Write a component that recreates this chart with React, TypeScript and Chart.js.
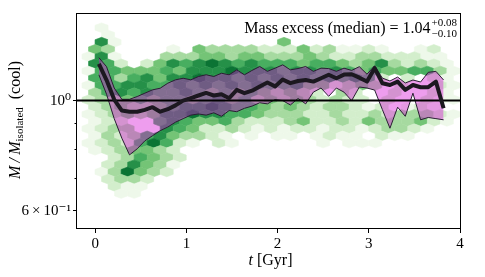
import { useEffect, useRef } from 'react';
import { Chart, registerables } from 'chart.js';

Chart.register(...registerables);

// ---------- data ----------
const TIME_GYR = [
  0.04, 0.124, 0.208, 0.292, 0.376, 0.46, 0.544, 0.628, 0.712, 0.796,
  0.88, 0.964, 1.048, 1.132, 1.216, 1.3, 1.384, 1.468, 1.552, 1.636,
  1.72, 1.804, 1.888, 1.972, 2.056, 2.14, 2.224, 2.308, 2.392, 2.476,
  2.56, 2.644, 2.728, 2.812, 2.896, 2.98, 3.064, 3.148, 3.232, 3.316,
  3.4, 3.484, 3.568, 3.652, 3.736, 3.82,
];
const MEDIAN = [
  1.185, 1.1, 1.005, 0.955, 0.95, 0.95, 0.958, 0.97, 0.95, 0.961,
  0.978, 1.0, 1.012, 1.024, 1.036, 1.024, 1.03, 1.011, 1.051, 1.035,
  1.047, 1.067, 1.087, 1.068, 1.102, 1.084, 1.095, 1.1, 1.092, 1.109,
  1.127, 1.109, 1.128, 1.13, 1.112, 1.092, 1.162, 1.084, 1.075, 1.092,
  1.051, 1.075, 1.064, 1.064, 1.092, 0.965,
];
const UPPER = [
  1.22, 1.17, 1.06, 1.006, 1.006, 1.019, 1.035, 1.051, 1.059, 1.084,
  1.101, 1.109, 1.101, 1.118, 1.127, 1.118, 1.135, 1.127, 1.153, 1.127,
  1.15, 1.171, 1.145, 1.162, 1.18, 1.153, 1.16, 1.171, 1.145, 1.162,
  1.16, 1.145, 1.162, 1.15, 1.17, 1.13, 1.175, 1.11, 1.095, 1.115,
  1.085, 1.1, 1.09, 1.14, 1.145, 1.1,
];
const LOWER = [
  1.127, 1.03, 0.92, 0.84, 0.778, 0.8, 0.83, 0.85, 0.87, 0.885,
  0.905, 0.92, 0.935, 0.94, 0.935, 0.945, 0.93, 0.955, 0.95, 0.965,
  0.975, 0.99, 0.985, 1.005, 1.0, 0.98, 1.01, 0.985, 1.04, 1.06,
  1.02, 1.06, 1.04, 1.0, 1.065, 1.06, 1.05, 0.96, 0.88, 0.97,
  0.93, 1.035, 0.915, 0.925, 0.92, 0.915,
];
const REFERENCE_LEVEL = 1;
const X_RANGE = [-0.2, 4];
const Y_RANGE = [0.552, 1.5];
const X_TICKS = [0, 1, 2, 3, 4];
const Y_MAJOR_TICKS = [0.6, 1];
const Y_MINOR_TICKS = [0.7, 0.8, 0.9];
const Y_TICK_LABELS: Record<string, string> = { '1': '10⁰', '0.6': '6\u2009×\u200910⁻¹' };
const ANNOTATION_MAIN = 'Mass excess (median) = 1.04';
const ANNOTATION_SUP = '+0.08';
const ANNOTATION_SUB = '\u22120.10';

// hexbin background: bin lattice (data units) and per-bin shade level (1..7, '.' = empty)
const HEX_DT = 0.1429;
const HEX_T0_EVEN = -0.0736;
const HEX_T0_ODD = -0.145;
const HEX_LOG_Y0 = 0.1465;
const HEX_LOG_DY = 0.01449;
const HEX_ROWS = [
  '.1',
  '..1',
  '.61.. ..... ..... 4',
  '.43.. ..1.4 33332 22423 1121. .12',
  '161.. .3334 43443 33432 23322 211',
  '.652. 24656 76565 55455 43463 2321',
  '15544 45466 67666 56656 54544 5531',
  '.5535 64667 66565 65656 5652. 2.21',
  '15566 55656 56565 56442 343.2 ..21',
  '.3565 65565 45454 3432. 32..2 ..21',
  '23345 45545 64534 34323 22.2. .211',
  '.2343 34566 76554 34323 3212. 121.',
  '12343 46676 65543 33223 22323 3321',
  '.122. .5654 45322 23422 32433 3421',
  '1233. .6542 23212 12212 21233 21',
  '.1323 56433 21.1. 11.12 11.21 1',
  '12325 7521. 21... ...1. 111',
  '.1234 432',
  '..235 432',
  '..236 431',
  '.1374 32',
  '..233 2',
  '..211',
  '...11',
];
const GREENS = ['', '#eef8ea', '#d3eecc', '#a6daa0', '#74c476', '#48ae60', '#259048', '#0b7434'];
const BAND_FILL = 'rgba(214, 22, 214, 0.42)';
const BAND_EDGE = '#2a1e33';
const MEDIAN_COLOR = '#1c1820';

const SERIF = '"Liberation Serif", "DejaVu Serif", serif';

type Run = { text: string; font: string; dy?: number };

function drawRuns(ctx: CanvasRenderingContext2D, runs: Run[], x: number, y: number, align: 'left' | 'center' | 'right') {
  let total = 0;
  const widths = runs.map((r) => {
    ctx.font = r.font;
    const w = ctx.measureText(r.text).width;
    total += w;
    return w;
  });
  let cx = align === 'left' ? x : align === 'center' ? x - total / 2 : x - total;
  ctx.textAlign = 'left';
  ctx.textBaseline = 'alphabetic';
  runs.forEach((r, i) => {
    ctx.font = r.font;
    ctx.fillText(r.text, cx, y + (r.dy || 0));
    cx += widths[i];
  });
}

const hexPlugin = {
  id: 'hexbin',
  beforeDatasetsDraw(chart: any) {
    const { ctx, chartArea, scales } = chart;
    const x = scales.x;
    const y = scales.y;
    ctx.save();
    ctx.beginPath();
    ctx.rect(chartArea.left, chartArea.top, chartArea.right - chartArea.left, chartArea.bottom - chartArea.top);
    ctx.clip();
    const w = x.getPixelForValue(HEX_DT) - x.getPixelForValue(0);
    HEX_ROWS.forEach((row, r) => {
      const cells = row.replace(/ /g, '');
      const logY = HEX_LOG_Y0 - r * HEX_LOG_DY;
      const cy = y.getPixelForValue(Math.pow(10, logY));
      const rowSp = y.getPixelForValue(Math.pow(10, logY - HEX_LOG_DY)) - cy;
      const t0 = r % 2 === 0 ? HEX_T0_EVEN : HEX_T0_ODD;
      const hw = w / 2;
      const a = (rowSp * 2) / 3;
      const b = rowSp / 3;
      for (let i = 0; i < cells.length; i++) {
        const lv = cells[i];
        if (lv === '.') continue;
        const cx = x.getPixelForValue(t0 + i * HEX_DT);
        ctx.beginPath();
        ctx.moveTo(cx, cy - a);
        ctx.lineTo(cx + hw, cy - b);
        ctx.lineTo(cx + hw, cy + b);
        ctx.lineTo(cx, cy + a);
        ctx.lineTo(cx - hw, cy + b);
        ctx.lineTo(cx - hw, cy - b);
        ctx.closePath();
        ctx.fillStyle = GREENS[+lv];
        ctx.strokeStyle = GREENS[+lv];
        ctx.lineWidth = 0.6;
        ctx.fill();
        ctx.stroke();
      }
    });
    ctx.restore();
  },
};

const decorPlugin = {
  id: 'decor',
  afterDraw(chart: any) {
    const { ctx, chartArea, scales } = chart;
    const y = scales.y;
    ctx.save();
    // frame
    ctx.strokeStyle = '#000';
    ctx.lineWidth = 1;
    ctx.strokeRect(
      Math.round(chartArea.left) - 0.5,
      Math.round(chartArea.top) + 0.5,
      Math.round(chartArea.right - chartArea.left) + 1,
      Math.round(chartArea.bottom - chartArea.top) - 1,
    );
    // minor ticks
    Y_MINOR_TICKS.forEach((v) => {
      const py = Math.round(y.getPixelForValue(v)) + 0.5;
      ctx.beginPath();
      ctx.moveTo(chartArea.left - 2.5, py);
      ctx.lineTo(chartArea.left, py);
      ctx.stroke();
    });
    ctx.fillStyle = '#000';
    // annotation
    ctx.font = `11px ${SERIF}`;
    const sw = Math.max(ctx.measureText(ANNOTATION_SUP).width, ctx.measureText(ANNOTATION_SUB).width);
    const right = chartArea.right - 3;
    drawRuns(ctx, [{ text: ANNOTATION_MAIN, font: `16px ${SERIF}` }], right - sw - 1, 33, 'right');
    drawRuns(ctx, [{ text: ANNOTATION_SUP, font: `11px ${SERIF}` }], right - sw, 26, 'left');
    drawRuns(ctx, [{ text: ANNOTATION_SUB, font: `11px ${SERIF}` }], right - sw, 36.5, 'left');
    // x label
    drawRuns(
      ctx,
      [
        { text: 't', font: `italic 16px ${SERIF}` },
        { text: ' [Gyr]', font: `16px ${SERIF}` },
      ],
      (chartArea.left + chartArea.right) / 2 + 2,
      265,
      'center',
    );
    // y label
    ctx.translate(20, (chartArea.top + chartArea.bottom) / 2 - 1);
    ctx.rotate(-Math.PI / 2);
    drawRuns(
      ctx,
      [
        { text: 'M', font: `italic 16px ${SERIF}` },
        { text: '\u2009/\u2009', font: `italic 16px ${SERIF}` },
        { text: 'M', font: `italic 16px ${SERIF}` },
        { text: 'isolated', font: `11px ${SERIF}`, dy: 3 },
        { text: '\u2002(cool)', font: `16px ${SERIF}` },
      ],
      0,
      0,
      'center',
    );
    ctx.restore();
  },
};

export default function App() {
  const ref = useRef<HTMLCanvasElement>(null);
  useEffect(() => {
    const pts = (arr: number[]) => TIME_GYR.map((t, i) => ({ x: t, y: arr[i] }));
    const chart = new Chart(ref.current as HTMLCanvasElement, {
      type: 'line',
      data: {
        datasets: [
          {
            label: 'lower',
            data: pts(LOWER),
            borderColor: BAND_EDGE,
            borderWidth: 1,
            pointRadius: 0,
            fill: false,
            order: 3,
          },
          {
            label: 'upper',
            data: pts(UPPER),
            borderColor: BAND_EDGE,
            borderWidth: 1,
            pointRadius: 0,
            fill: '-1',
            backgroundColor: BAND_FILL,
            order: 4,
          },
          {
            label: 'median',
            data: pts(MEDIAN),
            borderColor: MEDIAN_COLOR,
            borderWidth: 4,
            borderJoinStyle: 'round',
            pointRadius: 0,
            fill: false,
            order: 1,
          },
          {
            label: 'reference',
            data: [
              { x: X_RANGE[0], y: REFERENCE_LEVEL },
              { x: X_RANGE[1], y: REFERENCE_LEVEL },
            ],
            borderColor: '#000',
            borderWidth: 2,
            pointRadius: 0,
            fill: false,
            order: 2,
          },
        ],
      },
      options: {
        animation: false,
        responsive: false,
        events: [],
        layout: { padding: { top: 13, right: 25, left: 0, bottom: 0 } },
        plugins: { legend: { display: false }, tooltip: { enabled: false } },
        scales: {
          x: {
            type: 'linear',
            min: X_RANGE[0],
            max: X_RANGE[1],
            afterBuildTicks: (s: any) => {
              s.ticks = X_TICKS.map((v) => ({ value: v }));
            },
            afterFit: (s: any) => {
              s.height = 48;
            },
            ticks: {
              color: '#000',
              font: { family: SERIF, size: 15 },
              padding: 2,
              maxRotation: 0,
              autoSkip: false,
              callback: (v: any) => String(v),
            },
            grid: { drawOnChartArea: false, drawTicks: true, tickLength: 4, tickColor: '#000', tickWidth: 1 },
            border: { display: false },
          },
          y: {
            type: 'logarithmic',
            min: Y_RANGE[0],
            max: Y_RANGE[1],
            afterBuildTicks: (s: any) => {
              s.ticks = Y_MAJOR_TICKS.map((v) => ({ value: v }));
            },
            afterFit: (s: any) => {
              s.width = 77;
            },
            ticks: {
              color: '#000',
              font: { family: SERIF, size: 15 },
              padding: 2,
              autoSkip: false,
              callback: (v: any) => Y_TICK_LABELS[String(v)] ?? '',
            },
            grid: { drawOnChartArea: false, drawTicks: true, tickLength: 4, tickColor: '#000', tickWidth: 1 },
            border: { display: false },
          },
        },
      },
      plugins: [hexPlugin, decorPlugin],
    } as any);
    return () => chart.destroy();
  }, []);
  return (
    <div style={{ position: 'fixed', left: 0, top: 0, width: 485, height: 277, background: '#fff' }}>
      <canvas ref={ref} width={485} height={277} style={{ display: 'block' }} />
    </div>
  );
}
